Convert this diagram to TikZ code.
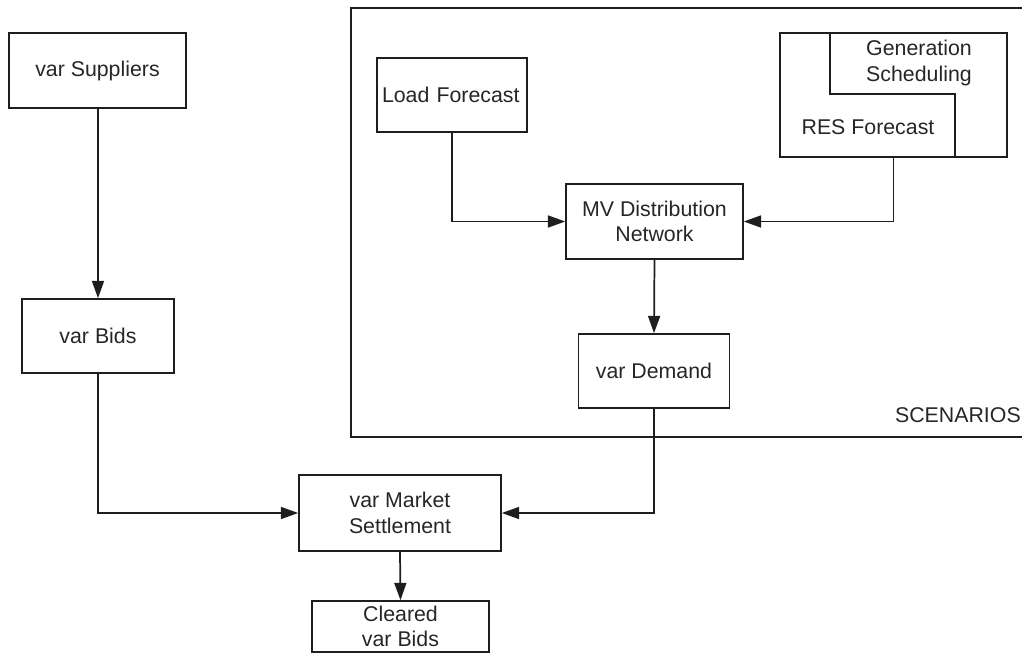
\documentclass[tikz,border=0pt]{standalone}
\usepackage{fontspec}
\setmainfont{Liberation Sans}
\usetikzlibrary{arrows.meta}
\definecolor{linegray}{HTML}{1E1E1E}
\definecolor{textgray}{HTML}{262626}
\tikzset{
  box/.style={draw=linegray, line width=1.2pt, rectangle, align=center, inner sep=0pt},
  sz/.style 2 args={minimum width=#1*0.75pt, minimum height=#2*0.75pt},
  flow/.style={draw=linegray, line width=1.3pt, -{Triangle[length=13pt,width=9pt]}},
}
\begin{document}
\begin{tikzpicture}[x=0.75pt, y=-0.75pt, font=\fontsize{16}{19}\selectfont, text=textgray]
  \useasboundingbox (0,0) rectangle (1022,653);
  % Scenario frame
  \draw[draw=linegray, line width=1.2pt] (351,8) rectangle (1060,437);
  \node[anchor=east, inner sep=0pt] (scen) at (1021,415) {SCENARIOS};
  % Market side
  \node[box, sz={177}{75}] (suppliers) at (97.5,70.5) {var Suppliers};
  \node[box, sz={152}{74}] (bids) at (98,336) {var Bids};
  \node[box, sz={202}{76}] (market) at (400,513) {var Market\\Settlement};
  \node[box, sz={177}{51}] (cleared) at (400.5,626.5) {Cleared\\var Bids};
  % Scenario side
  \node[box, sz={150}{74}, text width=140*0.75pt, align=left] (load) at (452,95) {Load Forecast};
  \node[box, sz={177}{75}] (mvnet) at (654.5,221.5) {MV Distribution\\Network};
  \node[box, sz={151}{74}] (demand) at (654,371) {var Demand};
  \node[box, sz={227}{124}] (res) at (893.5,95) {};
  \draw[draw=linegray, line width=1.2pt] (res.north west) ++(51,0) -- ++(0,62) -- ++(125,0) -- ++(0,62);
  \node[align=center] (gensched) at (919,63) {Generation\\Scheduling};
  \node (resfc) at (868,127) {RES Forecast};
  % Connectors
  \draw[flow] (bids.north |- suppliers.south) -- (bids.north);
  \draw[flow] (bids.south) |- (market.west);
  \draw[flow] (demand.south) |- (market.east);
  \draw[flow] (market.south) -- (cleared.north);
  \draw[flow] (load.south) |- (mvnet.west);
  \draw[flow] (res.south) |- (mvnet.east);
  \draw[flow] (mvnet.south) -- (demand.north);
\end{tikzpicture}
\end{document}
